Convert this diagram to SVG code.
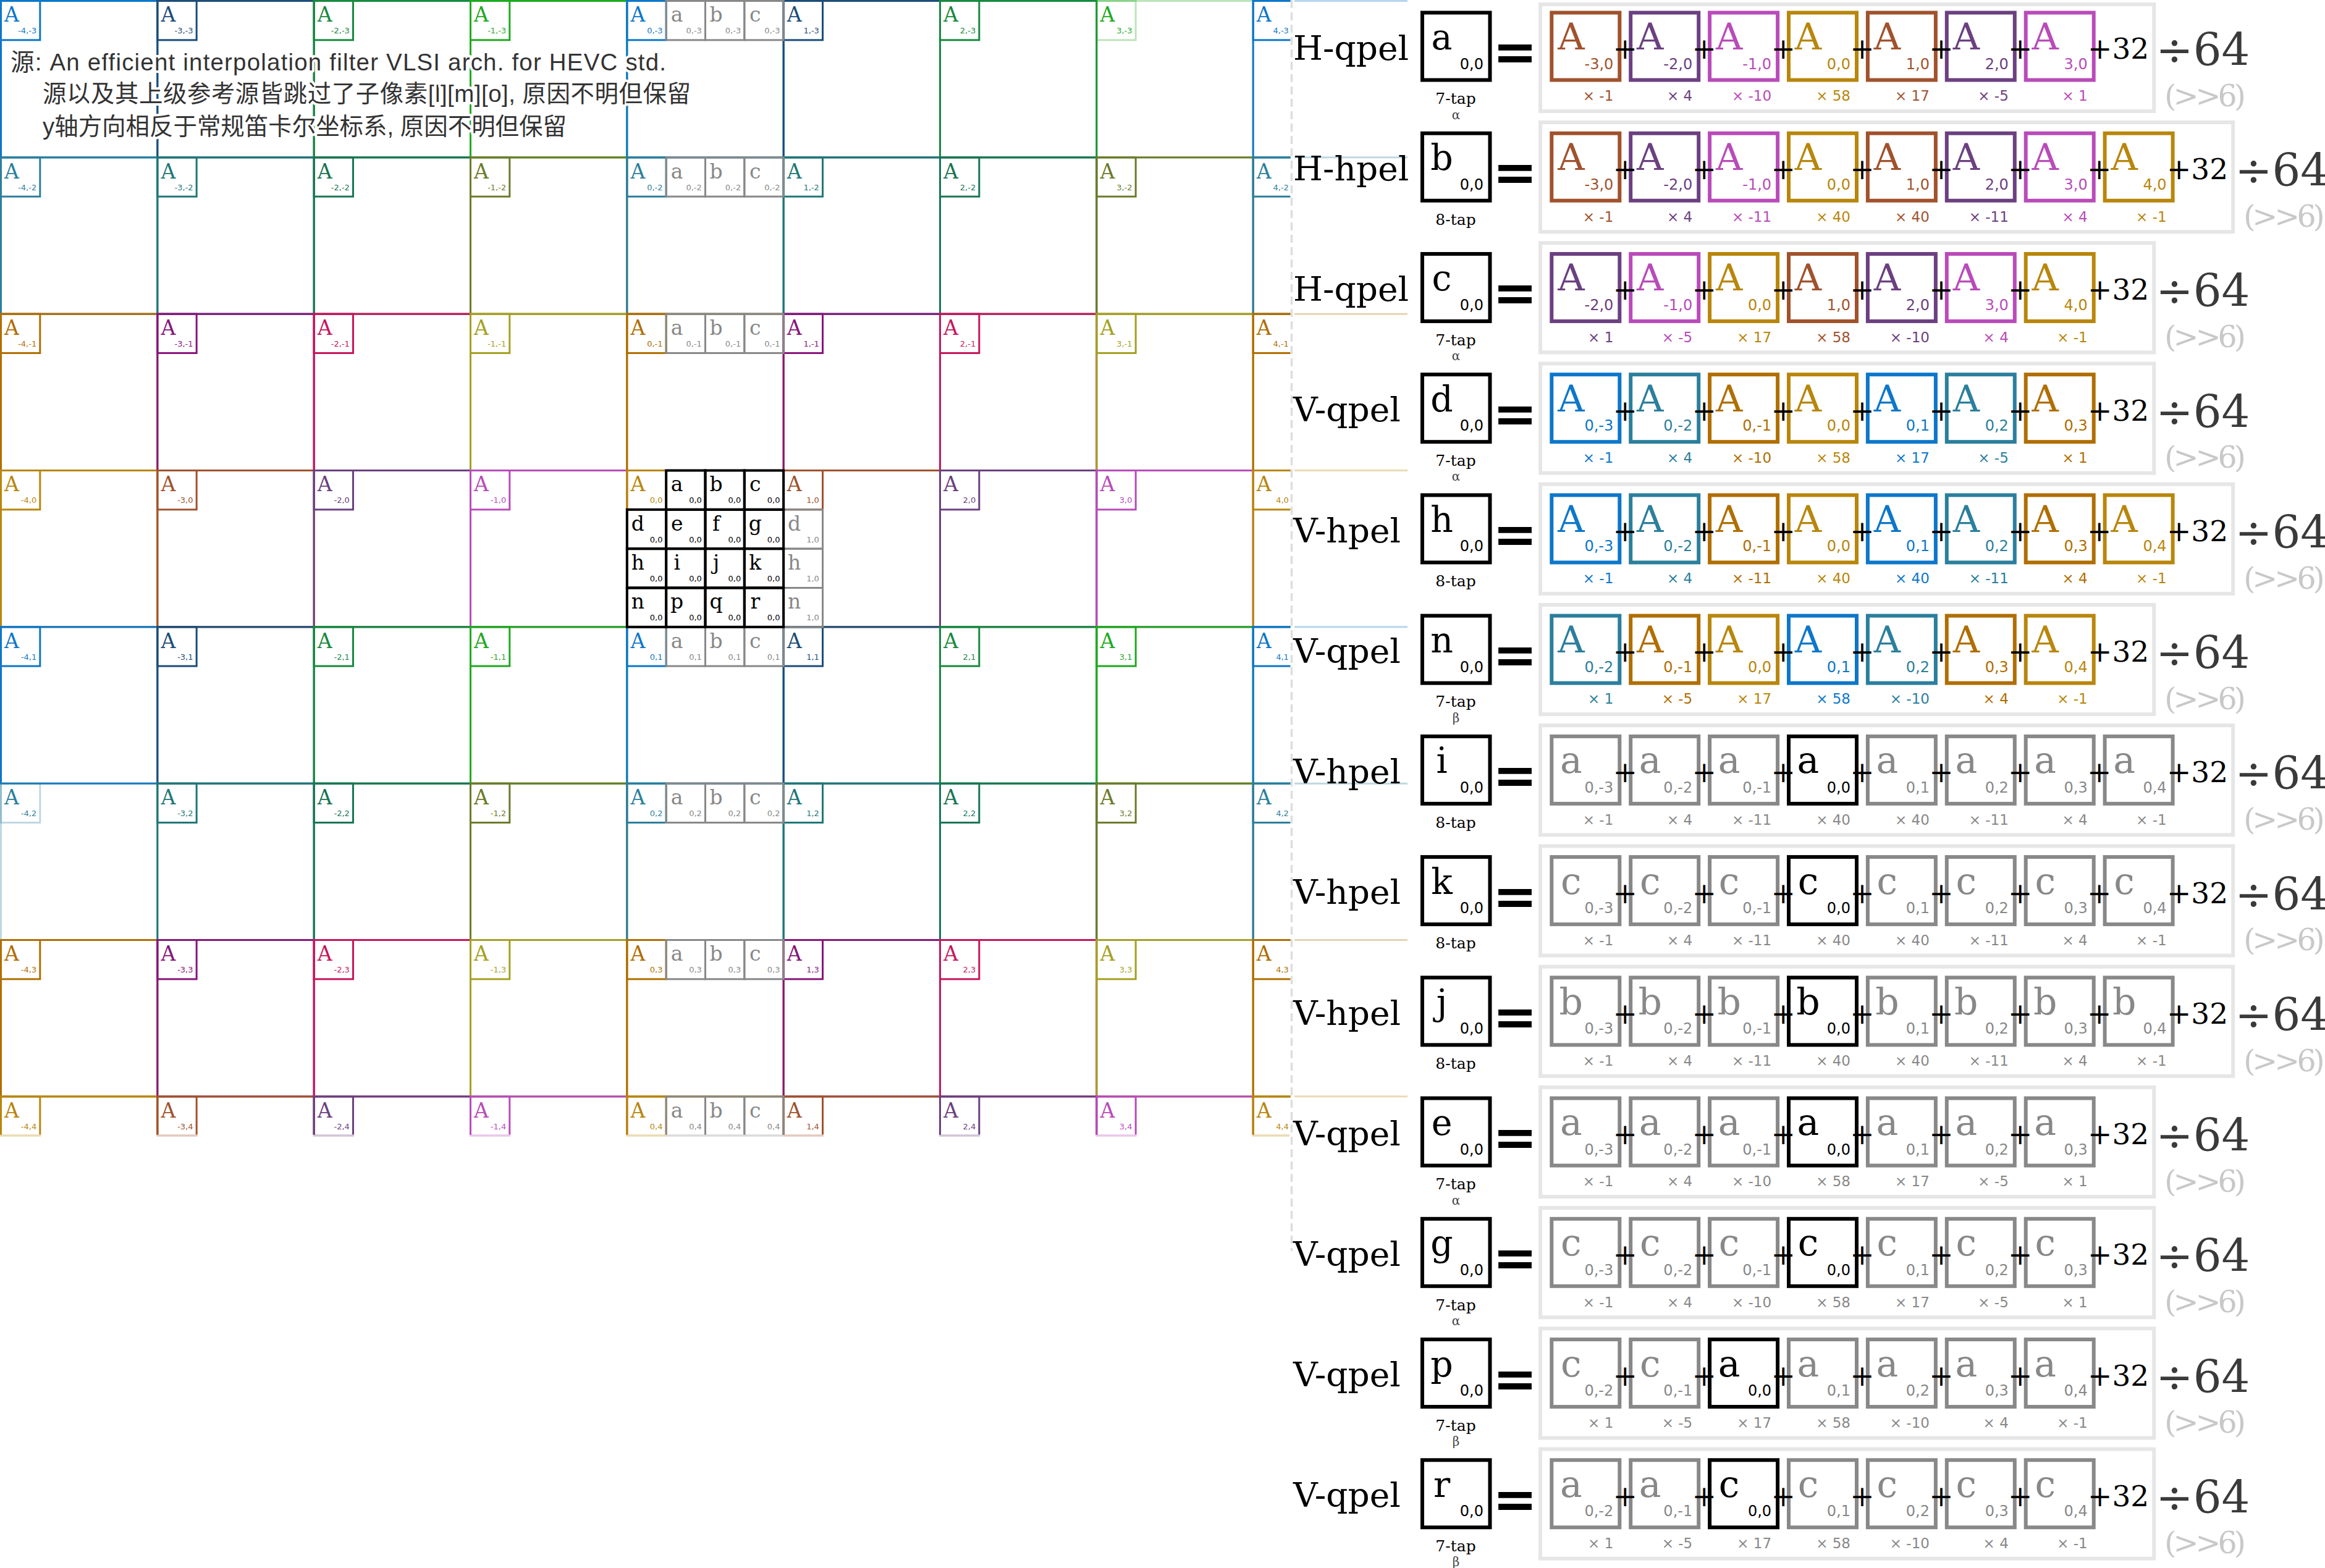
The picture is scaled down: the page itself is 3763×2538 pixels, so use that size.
<svg xmlns="http://www.w3.org/2000/svg" width="3763" height="2538" viewBox="0 0 3763 2538">
<defs>
<style>
text{font-family:"DejaVu Serif",serif}
.cell rect,.sb rect{fill:none;stroke:currentColor;stroke-width:3}
.sk rect{stroke-width:4}
.fd rect{stroke-opacity:.3}
.gl{font-size:33px;text-anchor:middle;fill:currentColor}
.gs{font-family:"DejaVu Sans",sans-serif;font-size:13px;text-anchor:end;fill:currentColor}
.ttl{font-family:"Liberation Sans","Noto Sans CJK SC",sans-serif;font-size:38.5px;fill:#333;stroke:#fff;stroke-width:8px;stroke-linejoin:round;paint-order:stroke}
.lbl{font-size:55px;fill:#000}
.res{fill:#fff;stroke:#000;stroke-width:6}
.rl{font-size:57px;text-anchor:middle}
.rs,.bs{font-family:"DejaVu Sans",sans-serif;font-size:24px;text-anchor:end}
.bs,.bl,.bm{fill:currentColor}
.bl{font-size:60px;text-anchor:middle}
.bm{font-family:"DejaVu Sans",sans-serif;font-size:23px;text-anchor:end}
.gm{fill:#888}
.bx{fill:#fff;stroke:currentColor;stroke-width:6}
.ct{fill:#fff;stroke:#e6e6e6;stroke-width:6}
.eq{font-family:"DejaVu Sans",sans-serif;font-weight:bold;font-size:86px;text-anchor:middle}
.tap{font-size:25px;text-anchor:middle}
.gk{font-size:20px;text-anchor:middle;fill:#444}
.pl{font-size:47px;text-anchor:middle}
.p32{font-size:47px}
.d64{font-size:72px;fill:#3a3a3a}
.sh{font-size:49px;fill:#c8c8c8;letter-spacing:-5px}
.fl{stroke-width:3;stroke-opacity:.3;stroke:currentColor}
.b0{color:#0d77c9}.b1{color:#1c4d78}.b2{color:#168a3e}.b3{color:#1eaa1e}
.t0{color:#2b7f9c}.t1{color:#1f7777}.t2{color:#187553}.t3{color:#6c7b2a}
.o0{color:#b06e00}.o1{color:#87157b}.o2{color:#c8155c}.o3{color:#a6a022}
.g0{color:#b8860b}.g1{color:#a0522d}.g2{color:#6b4080}.g3{color:#b94bb9}
.gy{color:#888}.bk{color:#000}
</style>
<clipPath id="gclip"><rect x="0" y="0" width="2088.5" height="1836.5"/></clipPath>
</defs>
<rect width="3763" height="2538" fill="#fff"/>

<g id="grid" clip-path="url(#gclip)">
<g id="A_m4_m3" class="cell b0" transform="translate(1.5,1.5)"><rect width="253.33" height="253.33"/><rect width="63.33" height="63.33"/><text class="gl" x="17.5" y="33.7">A</text><text class="gs" x="57.7" y="52.7">-4,-3</text></g>
<g id="A_m3_m3" class="cell b1" transform="translate(254.83,1.5)"><rect width="253.33" height="253.33"/><rect width="63.33" height="63.33"/><text class="gl" x="17.5" y="33.7">A</text><text class="gs" x="57.7" y="52.7">-3,-3</text></g>
<g id="A_m2_m3" class="cell b2" transform="translate(508.17,1.5)"><rect width="253.33" height="253.33"/><rect width="63.33" height="63.33"/><text class="gl" x="17.5" y="33.7">A</text><text class="gs" x="57.7" y="52.7">-2,-3</text></g>
<g id="A_m1_m3" class="cell b3" transform="translate(761.5,1.5)"><rect width="253.33" height="253.33"/><rect width="63.33" height="63.33"/><text class="gl" x="17.5" y="33.7">A</text><text class="gs" x="57.7" y="52.7">-1,-3</text></g>
<g id="A_0_m3" class="cell b0" transform="translate(1014.83,1.5)"><rect width="253.33" height="253.33"/><rect width="63.33" height="63.33"/><text class="gl" x="17.5" y="33.7">A</text><text class="gs" x="57.7" y="52.7">0,-3</text></g>
<g id="A_1_m3" class="cell b1" transform="translate(1268.17,1.5)"><rect width="253.33" height="253.33"/><rect width="63.33" height="63.33"/><text class="gl" x="17.5" y="33.7">A</text><text class="gs" x="57.7" y="52.7">1,-3</text></g>
<g id="A_2_m3" class="cell b2" transform="translate(1521.5,1.5)"><rect width="253.33" height="253.33"/><rect width="63.33" height="63.33"/><text class="gl" x="17.5" y="33.7">A</text><text class="gs" x="57.7" y="52.7">2,-3</text></g>
<g id="A_3_m3" class="cell b3 fd" transform="translate(1774.83,1.5)"><rect width="253.33" height="253.33"/><rect width="63.33" height="63.33"/><text class="gl" x="17.5" y="33.7">A</text><text class="gs" x="57.7" y="52.7">3,-3</text></g>
<g id="A_4_m3" class="cell b0" transform="translate(2028.17,1.5)"><rect width="253.33" height="253.33"/><rect width="63.33" height="63.33"/><text class="gl" x="17.5" y="33.7">A</text><text class="gs" x="57.7" y="52.7">4,-3</text></g>

<g id="A_m4_m2" class="cell t0" transform="translate(1.5,254.83)"><rect width="253.33" height="253.33"/><rect width="63.33" height="63.33"/><text class="gl" x="17.5" y="33.7">A</text><text class="gs" x="57.7" y="52.7">-4,-2</text></g>
<g id="A_m3_m2" class="cell t1" transform="translate(254.83,254.83)"><rect width="253.33" height="253.33"/><rect width="63.33" height="63.33"/><text class="gl" x="17.5" y="33.7">A</text><text class="gs" x="57.7" y="52.7">-3,-2</text></g>
<g id="A_m2_m2" class="cell t2" transform="translate(508.17,254.83)"><rect width="253.33" height="253.33"/><rect width="63.33" height="63.33"/><text class="gl" x="17.5" y="33.7">A</text><text class="gs" x="57.7" y="52.7">-2,-2</text></g>
<g id="A_m1_m2" class="cell t3" transform="translate(761.5,254.83)"><rect width="253.33" height="253.33"/><rect width="63.33" height="63.33"/><text class="gl" x="17.5" y="33.7">A</text><text class="gs" x="57.7" y="52.7">-1,-2</text></g>
<g id="A_0_m2" class="cell t0" transform="translate(1014.83,254.83)"><rect width="253.33" height="253.33"/><rect width="63.33" height="63.33"/><text class="gl" x="17.5" y="33.7">A</text><text class="gs" x="57.7" y="52.7">0,-2</text></g>
<g id="A_1_m2" class="cell t1" transform="translate(1268.17,254.83)"><rect width="253.33" height="253.33"/><rect width="63.33" height="63.33"/><text class="gl" x="17.5" y="33.7">A</text><text class="gs" x="57.7" y="52.7">1,-2</text></g>
<g id="A_2_m2" class="cell t2" transform="translate(1521.5,254.83)"><rect width="253.33" height="253.33"/><rect width="63.33" height="63.33"/><text class="gl" x="17.5" y="33.7">A</text><text class="gs" x="57.7" y="52.7">2,-2</text></g>
<g id="A_3_m2" class="cell t3" transform="translate(1774.83,254.83)"><rect width="253.33" height="253.33"/><rect width="63.33" height="63.33"/><text class="gl" x="17.5" y="33.7">A</text><text class="gs" x="57.7" y="52.7">3,-2</text></g>
<g id="A_4_m2" class="cell t0" transform="translate(2028.17,254.83)"><rect width="253.33" height="253.33"/><rect width="63.33" height="63.33"/><text class="gl" x="17.5" y="33.7">A</text><text class="gs" x="57.7" y="52.7">4,-2</text></g>

<g id="A_m4_m1" class="cell o0" transform="translate(1.5,508.17)"><rect width="253.33" height="253.33"/><rect width="63.33" height="63.33"/><text class="gl" x="17.5" y="33.7">A</text><text class="gs" x="57.7" y="52.7">-4,-1</text></g>
<g id="A_m3_m1" class="cell o1" transform="translate(254.83,508.17)"><rect width="253.33" height="253.33"/><rect width="63.33" height="63.33"/><text class="gl" x="17.5" y="33.7">A</text><text class="gs" x="57.7" y="52.7">-3,-1</text></g>
<g id="A_m2_m1" class="cell o2" transform="translate(508.17,508.17)"><rect width="253.33" height="253.33"/><rect width="63.33" height="63.33"/><text class="gl" x="17.5" y="33.7">A</text><text class="gs" x="57.7" y="52.7">-2,-1</text></g>
<g id="A_m1_m1" class="cell o3" transform="translate(761.5,508.17)"><rect width="253.33" height="253.33"/><rect width="63.33" height="63.33"/><text class="gl" x="17.5" y="33.7">A</text><text class="gs" x="57.7" y="52.7">-1,-1</text></g>
<g id="A_0_m1" class="cell o0" transform="translate(1014.83,508.17)"><rect width="253.33" height="253.33"/><rect width="63.33" height="63.33"/><text class="gl" x="17.5" y="33.7">A</text><text class="gs" x="57.7" y="52.7">0,-1</text></g>
<g id="A_1_m1" class="cell o1" transform="translate(1268.17,508.17)"><rect width="253.33" height="253.33"/><rect width="63.33" height="63.33"/><text class="gl" x="17.5" y="33.7">A</text><text class="gs" x="57.7" y="52.7">1,-1</text></g>
<g id="A_2_m1" class="cell o2" transform="translate(1521.5,508.17)"><rect width="253.33" height="253.33"/><rect width="63.33" height="63.33"/><text class="gl" x="17.5" y="33.7">A</text><text class="gs" x="57.7" y="52.7">2,-1</text></g>
<g id="A_3_m1" class="cell o3" transform="translate(1774.83,508.17)"><rect width="253.33" height="253.33"/><rect width="63.33" height="63.33"/><text class="gl" x="17.5" y="33.7">A</text><text class="gs" x="57.7" y="52.7">3,-1</text></g>
<g id="A_4_m1" class="cell o0" transform="translate(2028.17,508.17)"><rect width="253.33" height="253.33"/><rect width="63.33" height="63.33"/><text class="gl" x="17.5" y="33.7">A</text><text class="gs" x="57.7" y="52.7">4,-1</text></g>

<g id="A_m4_0" class="cell g0" transform="translate(1.5,761.5)"><rect width="253.33" height="253.33"/><rect width="63.33" height="63.33"/><text class="gl" x="17.5" y="33.7">A</text><text class="gs" x="57.7" y="52.7">-4,0</text></g>
<g id="A_m3_0" class="cell g1" transform="translate(254.83,761.5)"><rect width="253.33" height="253.33"/><rect width="63.33" height="63.33"/><text class="gl" x="17.5" y="33.7">A</text><text class="gs" x="57.7" y="52.7">-3,0</text></g>
<g id="A_m2_0" class="cell g2" transform="translate(508.17,761.5)"><rect width="253.33" height="253.33"/><rect width="63.33" height="63.33"/><text class="gl" x="17.5" y="33.7">A</text><text class="gs" x="57.7" y="52.7">-2,0</text></g>
<g id="A_m1_0" class="cell g3" transform="translate(761.5,761.5)"><rect width="253.33" height="253.33"/><rect width="63.33" height="63.33"/><text class="gl" x="17.5" y="33.7">A</text><text class="gs" x="57.7" y="52.7">-1,0</text></g>
<g id="A_0_0" class="cell g0" transform="translate(1014.83,761.5)"><rect width="253.33" height="253.33"/><rect width="63.33" height="63.33"/><text class="gl" x="17.5" y="33.7">A</text><text class="gs" x="57.7" y="52.7">0,0</text></g>
<g id="A_1_0" class="cell g1" transform="translate(1268.17,761.5)"><rect width="253.33" height="253.33"/><rect width="63.33" height="63.33"/><text class="gl" x="17.5" y="33.7">A</text><text class="gs" x="57.7" y="52.7">1,0</text></g>
<g id="A_2_0" class="cell g2" transform="translate(1521.5,761.5)"><rect width="253.33" height="253.33"/><rect width="63.33" height="63.33"/><text class="gl" x="17.5" y="33.7">A</text><text class="gs" x="57.7" y="52.7">2,0</text></g>
<g id="A_3_0" class="cell g3" transform="translate(1774.83,761.5)"><rect width="253.33" height="253.33"/><rect width="63.33" height="63.33"/><text class="gl" x="17.5" y="33.7">A</text><text class="gs" x="57.7" y="52.7">3,0</text></g>
<g id="A_4_0" class="cell g0" transform="translate(2028.17,761.5)"><rect width="253.33" height="253.33"/><rect width="63.33" height="63.33"/><text class="gl" x="17.5" y="33.7">A</text><text class="gs" x="57.7" y="52.7">4,0</text></g>

<g id="A_m4_1" class="cell b0" transform="translate(1.5,1014.83)"><rect width="253.33" height="253.33"/><rect width="63.33" height="63.33"/><text class="gl" x="17.5" y="33.7">A</text><text class="gs" x="57.7" y="52.7">-4,1</text></g>
<g id="A_m3_1" class="cell b1" transform="translate(254.83,1014.83)"><rect width="253.33" height="253.33"/><rect width="63.33" height="63.33"/><text class="gl" x="17.5" y="33.7">A</text><text class="gs" x="57.7" y="52.7">-3,1</text></g>
<g id="A_m2_1" class="cell b2" transform="translate(508.17,1014.83)"><rect width="253.33" height="253.33"/><rect width="63.33" height="63.33"/><text class="gl" x="17.5" y="33.7">A</text><text class="gs" x="57.7" y="52.7">-2,1</text></g>
<g id="A_m1_1" class="cell b3" transform="translate(761.5,1014.83)"><rect width="253.33" height="253.33"/><rect width="63.33" height="63.33"/><text class="gl" x="17.5" y="33.7">A</text><text class="gs" x="57.7" y="52.7">-1,1</text></g>
<g id="A_0_1" class="cell b0" transform="translate(1014.83,1014.83)"><rect width="253.33" height="253.33"/><rect width="63.33" height="63.33"/><text class="gl" x="17.5" y="33.7">A</text><text class="gs" x="57.7" y="52.7">0,1</text></g>
<g id="A_1_1" class="cell b1" transform="translate(1268.17,1014.83)"><rect width="253.33" height="253.33"/><rect width="63.33" height="63.33"/><text class="gl" x="17.5" y="33.7">A</text><text class="gs" x="57.7" y="52.7">1,1</text></g>
<g id="A_2_1" class="cell b2" transform="translate(1521.5,1014.83)"><rect width="253.33" height="253.33"/><rect width="63.33" height="63.33"/><text class="gl" x="17.5" y="33.7">A</text><text class="gs" x="57.7" y="52.7">2,1</text></g>
<g id="A_3_1" class="cell b3" transform="translate(1774.83,1014.83)"><rect width="253.33" height="253.33"/><rect width="63.33" height="63.33"/><text class="gl" x="17.5" y="33.7">A</text><text class="gs" x="57.7" y="52.7">3,1</text></g>
<g id="A_4_1" class="cell b0" transform="translate(2028.17,1014.83)"><rect width="253.33" height="253.33"/><rect width="63.33" height="63.33"/><text class="gl" x="17.5" y="33.7">A</text><text class="gs" x="57.7" y="52.7">4,1</text></g>

<g id="A_m4_2" class="cell t0 fd" transform="translate(1.5,1268.17)"><rect width="253.33" height="253.33"/><rect width="63.33" height="63.33"/><text class="gl" x="17.5" y="33.7">A</text><text class="gs" x="57.7" y="52.7">-4,2</text></g>
<g id="A_m3_2" class="cell t1" transform="translate(254.83,1268.17)"><rect width="253.33" height="253.33"/><rect width="63.33" height="63.33"/><text class="gl" x="17.5" y="33.7">A</text><text class="gs" x="57.7" y="52.7">-3,2</text></g>
<g id="A_m2_2" class="cell t2" transform="translate(508.17,1268.17)"><rect width="253.33" height="253.33"/><rect width="63.33" height="63.33"/><text class="gl" x="17.5" y="33.7">A</text><text class="gs" x="57.7" y="52.7">-2,2</text></g>
<g id="A_m1_2" class="cell t3" transform="translate(761.5,1268.17)"><rect width="253.33" height="253.33"/><rect width="63.33" height="63.33"/><text class="gl" x="17.5" y="33.7">A</text><text class="gs" x="57.7" y="52.7">-1,2</text></g>
<g id="A_0_2" class="cell t0" transform="translate(1014.83,1268.17)"><rect width="253.33" height="253.33"/><rect width="63.33" height="63.33"/><text class="gl" x="17.5" y="33.7">A</text><text class="gs" x="57.7" y="52.7">0,2</text></g>
<g id="A_1_2" class="cell t1" transform="translate(1268.17,1268.17)"><rect width="253.33" height="253.33"/><rect width="63.33" height="63.33"/><text class="gl" x="17.5" y="33.7">A</text><text class="gs" x="57.7" y="52.7">1,2</text></g>
<g id="A_2_2" class="cell t2" transform="translate(1521.5,1268.17)"><rect width="253.33" height="253.33"/><rect width="63.33" height="63.33"/><text class="gl" x="17.5" y="33.7">A</text><text class="gs" x="57.7" y="52.7">2,2</text></g>
<g id="A_3_2" class="cell t3" transform="translate(1774.83,1268.17)"><rect width="253.33" height="253.33"/><rect width="63.33" height="63.33"/><text class="gl" x="17.5" y="33.7">A</text><text class="gs" x="57.7" y="52.7">3,2</text></g>
<g id="A_4_2" class="cell t0" transform="translate(2028.17,1268.17)"><rect width="253.33" height="253.33"/><rect width="63.33" height="63.33"/><text class="gl" x="17.5" y="33.7">A</text><text class="gs" x="57.7" y="52.7">4,2</text></g>

<g id="A_m4_3" class="cell o0" transform="translate(1.5,1521.5)"><rect width="253.33" height="253.33"/><rect width="63.33" height="63.33"/><text class="gl" x="17.5" y="33.7">A</text><text class="gs" x="57.7" y="52.7">-4,3</text></g>
<g id="A_m3_3" class="cell o1" transform="translate(254.83,1521.5)"><rect width="253.33" height="253.33"/><rect width="63.33" height="63.33"/><text class="gl" x="17.5" y="33.7">A</text><text class="gs" x="57.7" y="52.7">-3,3</text></g>
<g id="A_m2_3" class="cell o2" transform="translate(508.17,1521.5)"><rect width="253.33" height="253.33"/><rect width="63.33" height="63.33"/><text class="gl" x="17.5" y="33.7">A</text><text class="gs" x="57.7" y="52.7">-2,3</text></g>
<g id="A_m1_3" class="cell o3" transform="translate(761.5,1521.5)"><rect width="253.33" height="253.33"/><rect width="63.33" height="63.33"/><text class="gl" x="17.5" y="33.7">A</text><text class="gs" x="57.7" y="52.7">-1,3</text></g>
<g id="A_0_3" class="cell o0" transform="translate(1014.83,1521.5)"><rect width="253.33" height="253.33"/><rect width="63.33" height="63.33"/><text class="gl" x="17.5" y="33.7">A</text><text class="gs" x="57.7" y="52.7">0,3</text></g>
<g id="A_1_3" class="cell o1" transform="translate(1268.17,1521.5)"><rect width="253.33" height="253.33"/><rect width="63.33" height="63.33"/><text class="gl" x="17.5" y="33.7">A</text><text class="gs" x="57.7" y="52.7">1,3</text></g>
<g id="A_2_3" class="cell o2" transform="translate(1521.5,1521.5)"><rect width="253.33" height="253.33"/><rect width="63.33" height="63.33"/><text class="gl" x="17.5" y="33.7">A</text><text class="gs" x="57.7" y="52.7">2,3</text></g>
<g id="A_3_3" class="cell o3" transform="translate(1774.83,1521.5)"><rect width="253.33" height="253.33"/><rect width="63.33" height="63.33"/><text class="gl" x="17.5" y="33.7">A</text><text class="gs" x="57.7" y="52.7">3,3</text></g>
<g id="A_4_3" class="cell o0" transform="translate(2028.17,1521.5)"><rect width="253.33" height="253.33"/><rect width="63.33" height="63.33"/><text class="gl" x="17.5" y="33.7">A</text><text class="gs" x="57.7" y="52.7">4,3</text></g>

<g id="A_m4_4" class="cell g0" transform="translate(1.5,1774.83)"><rect width="253.33" height="253.33"/><rect width="63.33" height="63.33"/><text class="gl" x="17.5" y="33.7">A</text><text class="gs" x="57.7" y="52.7">-4,4</text></g>
<g id="A_m3_4" class="cell g1" transform="translate(254.83,1774.83)"><rect width="253.33" height="253.33"/><rect width="63.33" height="63.33"/><text class="gl" x="17.5" y="33.7">A</text><text class="gs" x="57.7" y="52.7">-3,4</text></g>
<g id="A_m2_4" class="cell g2" transform="translate(508.17,1774.83)"><rect width="253.33" height="253.33"/><rect width="63.33" height="63.33"/><text class="gl" x="17.5" y="33.7">A</text><text class="gs" x="57.7" y="52.7">-2,4</text></g>
<g id="A_m1_4" class="cell g3" transform="translate(761.5,1774.83)"><rect width="253.33" height="253.33"/><rect width="63.33" height="63.33"/><text class="gl" x="17.5" y="33.7">A</text><text class="gs" x="57.7" y="52.7">-1,4</text></g>
<g id="A_0_4" class="cell g0" transform="translate(1014.83,1774.83)"><rect width="253.33" height="253.33"/><rect width="63.33" height="63.33"/><text class="gl" x="17.5" y="33.7">A</text><text class="gs" x="57.7" y="52.7">0,4</text></g>
<g id="A_1_4" class="cell g1" transform="translate(1268.17,1774.83)"><rect width="253.33" height="253.33"/><rect width="63.33" height="63.33"/><text class="gl" x="17.5" y="33.7">A</text><text class="gs" x="57.7" y="52.7">1,4</text></g>
<g id="A_2_4" class="cell g2" transform="translate(1521.5,1774.83)"><rect width="253.33" height="253.33"/><rect width="63.33" height="63.33"/><text class="gl" x="17.5" y="33.7">A</text><text class="gs" x="57.7" y="52.7">2,4</text></g>
<g id="A_3_4" class="cell g3" transform="translate(1774.83,1774.83)"><rect width="253.33" height="253.33"/><rect width="63.33" height="63.33"/><text class="gl" x="17.5" y="33.7">A</text><text class="gs" x="57.7" y="52.7">3,4</text></g>
<g id="A_4_4" class="cell g0" transform="translate(2028.17,1774.83)"><rect width="253.33" height="253.33"/><rect width="63.33" height="63.33"/><text class="gl" x="17.5" y="33.7">A</text><text class="gs" x="57.7" y="52.7">4,4</text></g>

<g id="subpels-gray">
<g class="sb gy" transform="translate(1078.17,1.5)"><rect width="63.33" height="63.33"/><text class="gl" x="17.5" y="33.7">a</text><text class="gs" x="57.7" y="52.7">0,-3</text></g>
<g class="sb gy" transform="translate(1141.5,1.5)"><rect width="63.33" height="63.33"/><text class="gl" x="17.5" y="33.7">b</text><text class="gs" x="57.7" y="52.7">0,-3</text></g>
<g class="sb gy" transform="translate(1204.83,1.5)"><rect width="63.33" height="63.33"/><text class="gl" x="17.5" y="33.7">c</text><text class="gs" x="57.7" y="52.7">0,-3</text></g>
<g class="sb gy" transform="translate(1078.17,254.83)"><rect width="63.33" height="63.33"/><text class="gl" x="17.5" y="33.7">a</text><text class="gs" x="57.7" y="52.7">0,-2</text></g>
<g class="sb gy" transform="translate(1141.5,254.83)"><rect width="63.33" height="63.33"/><text class="gl" x="17.5" y="33.7">b</text><text class="gs" x="57.7" y="52.7">0,-2</text></g>
<g class="sb gy" transform="translate(1204.83,254.83)"><rect width="63.33" height="63.33"/><text class="gl" x="17.5" y="33.7">c</text><text class="gs" x="57.7" y="52.7">0,-2</text></g>
<g class="sb gy" transform="translate(1078.17,508.17)"><rect width="63.33" height="63.33"/><text class="gl" x="17.5" y="33.7">a</text><text class="gs" x="57.7" y="52.7">0,-1</text></g>
<g class="sb gy" transform="translate(1141.5,508.17)"><rect width="63.33" height="63.33"/><text class="gl" x="17.5" y="33.7">b</text><text class="gs" x="57.7" y="52.7">0,-1</text></g>
<g class="sb gy" transform="translate(1204.83,508.17)"><rect width="63.33" height="63.33"/><text class="gl" x="17.5" y="33.7">c</text><text class="gs" x="57.7" y="52.7">0,-1</text></g>
<g class="sb gy" transform="translate(1078.17,1014.83)"><rect width="63.33" height="63.33"/><text class="gl" x="17.5" y="33.7">a</text><text class="gs" x="57.7" y="52.7">0,1</text></g>
<g class="sb gy" transform="translate(1141.5,1014.83)"><rect width="63.33" height="63.33"/><text class="gl" x="17.5" y="33.7">b</text><text class="gs" x="57.7" y="52.7">0,1</text></g>
<g class="sb gy" transform="translate(1204.83,1014.83)"><rect width="63.33" height="63.33"/><text class="gl" x="17.5" y="33.7">c</text><text class="gs" x="57.7" y="52.7">0,1</text></g>
<g class="sb gy" transform="translate(1078.17,1268.17)"><rect width="63.33" height="63.33"/><text class="gl" x="17.5" y="33.7">a</text><text class="gs" x="57.7" y="52.7">0,2</text></g>
<g class="sb gy" transform="translate(1141.5,1268.17)"><rect width="63.33" height="63.33"/><text class="gl" x="17.5" y="33.7">b</text><text class="gs" x="57.7" y="52.7">0,2</text></g>
<g class="sb gy" transform="translate(1204.83,1268.17)"><rect width="63.33" height="63.33"/><text class="gl" x="17.5" y="33.7">c</text><text class="gs" x="57.7" y="52.7">0,2</text></g>
<g class="sb gy" transform="translate(1078.17,1521.5)"><rect width="63.33" height="63.33"/><text class="gl" x="17.5" y="33.7">a</text><text class="gs" x="57.7" y="52.7">0,3</text></g>
<g class="sb gy" transform="translate(1141.5,1521.5)"><rect width="63.33" height="63.33"/><text class="gl" x="17.5" y="33.7">b</text><text class="gs" x="57.7" y="52.7">0,3</text></g>
<g class="sb gy" transform="translate(1204.83,1521.5)"><rect width="63.33" height="63.33"/><text class="gl" x="17.5" y="33.7">c</text><text class="gs" x="57.7" y="52.7">0,3</text></g>
<g class="sb gy" transform="translate(1078.17,1774.83)"><rect width="63.33" height="63.33"/><text class="gl" x="17.5" y="33.7">a</text><text class="gs" x="57.7" y="52.7">0,4</text></g>
<g class="sb gy" transform="translate(1141.5,1774.83)"><rect width="63.33" height="63.33"/><text class="gl" x="17.5" y="33.7">b</text><text class="gs" x="57.7" y="52.7">0,4</text></g>
<g class="sb gy" transform="translate(1204.83,1774.83)"><rect width="63.33" height="63.33"/><text class="gl" x="17.5" y="33.7">c</text><text class="gs" x="57.7" y="52.7">0,4</text></g>
<g class="sb gy" transform="translate(1268.17,824.83)"><rect width="63.33" height="63.33"/><text class="gl" x="17.5" y="33.7">d</text><text class="gs" x="57.7" y="52.7">1,0</text></g>
<g class="sb gy" transform="translate(1268.17,888.17)"><rect width="63.33" height="63.33"/><text class="gl" x="17.5" y="33.7">h</text><text class="gs" x="57.7" y="52.7">1,0</text></g>
<g class="sb gy" transform="translate(1268.17,951.5)"><rect width="63.33" height="63.33"/><text class="gl" x="17.5" y="33.7">n</text><text class="gs" x="57.7" y="52.7">1,0</text></g>
</g>
<g id="subpels-0-0">
<g class="sb sk bk" transform="translate(1078.17,761.5)"><rect width="63.33" height="63.33"/><text class="gl" x="17.5" y="33.7">a</text><text class="gs" x="57.7" y="52.7">0,0</text></g>
<g class="sb sk bk" transform="translate(1141.5,761.5)"><rect width="63.33" height="63.33"/><text class="gl" x="17.5" y="33.7">b</text><text class="gs" x="57.7" y="52.7">0,0</text></g>
<g class="sb sk bk" transform="translate(1204.83,761.5)"><rect width="63.33" height="63.33"/><text class="gl" x="17.5" y="33.7">c</text><text class="gs" x="57.7" y="52.7">0,0</text></g>
<g class="sb sk bk" transform="translate(1014.83,824.83)"><rect width="63.33" height="63.33"/><text class="gl" x="17.5" y="33.7">d</text><text class="gs" x="57.7" y="52.7">0,0</text></g>
<g class="sb sk bk" transform="translate(1078.17,824.83)"><rect width="63.33" height="63.33"/><text class="gl" x="17.5" y="33.7">e</text><text class="gs" x="57.7" y="52.7">0,0</text></g>
<g class="sb sk bk" transform="translate(1141.5,824.83)"><rect width="63.33" height="63.33"/><text class="gl" x="17.5" y="33.7">f</text><text class="gs" x="57.7" y="52.7">0,0</text></g>
<g class="sb sk bk" transform="translate(1204.83,824.83)"><rect width="63.33" height="63.33"/><text class="gl" x="17.5" y="33.7">g</text><text class="gs" x="57.7" y="52.7">0,0</text></g>
<g class="sb sk bk" transform="translate(1014.83,888.17)"><rect width="63.33" height="63.33"/><text class="gl" x="17.5" y="33.7">h</text><text class="gs" x="57.7" y="52.7">0,0</text></g>
<g class="sb sk bk" transform="translate(1078.17,888.17)"><rect width="63.33" height="63.33"/><text class="gl" x="17.5" y="33.7">i</text><text class="gs" x="57.7" y="52.7">0,0</text></g>
<g class="sb sk bk" transform="translate(1141.5,888.17)"><rect width="63.33" height="63.33"/><text class="gl" x="17.5" y="33.7">j</text><text class="gs" x="57.7" y="52.7">0,0</text></g>
<g class="sb sk bk" transform="translate(1204.83,888.17)"><rect width="63.33" height="63.33"/><text class="gl" x="17.5" y="33.7">k</text><text class="gs" x="57.7" y="52.7">0,0</text></g>
<g class="sb sk bk" transform="translate(1014.83,951.5)"><rect width="63.33" height="63.33"/><text class="gl" x="17.5" y="33.7">n</text><text class="gs" x="57.7" y="52.7">0,0</text></g>
<g class="sb sk bk" transform="translate(1078.17,951.5)"><rect width="63.33" height="63.33"/><text class="gl" x="17.5" y="33.7">p</text><text class="gs" x="57.7" y="52.7">0,0</text></g>
<g class="sb sk bk" transform="translate(1141.5,951.5)"><rect width="63.33" height="63.33"/><text class="gl" x="17.5" y="33.7">q</text><text class="gs" x="57.7" y="52.7">0,0</text></g>
<g class="sb sk bk" transform="translate(1204.83,951.5)"><rect width="63.33" height="63.33"/><text class="gl" x="17.5" y="33.7">r</text><text class="gs" x="57.7" y="52.7">0,0</text></g>
</g>
</g>

<g id="grid-fade-bottom">
<line class="fl g0" x1="0" y1="1838.16" x2="66.33" y2="1838.16"/>
<line class="fl g1" x1="253.33" y1="1838.16" x2="319.66" y2="1838.16"/>
<line class="fl g2" x1="506.67" y1="1838.16" x2="573" y2="1838.16"/>
<line class="fl g3" x1="760" y1="1838.16" x2="826.33" y2="1838.16"/>
<line class="fl g0" x1="1013.33" y1="1838.16" x2="1078.17" y2="1838.16"/>
<line class="fl gy" x1="1078.17" y1="1838.16" x2="1268.17" y2="1838.16"/>
<line class="fl g1" x1="1268.17" y1="1838.16" x2="1333" y2="1838.16"/>
<line class="fl g2" x1="1520" y1="1838.16" x2="1586.33" y2="1838.16"/>
<line class="fl g3" x1="1773.33" y1="1838.16" x2="1839.66" y2="1838.16"/>
<line class="fl g0" x1="2026.67" y1="1838.16" x2="2087" y2="1838.16"/>
</g>

<g id="note">
<text class="ttl" x="17" y="114" textLength="1061" lengthAdjust="spacing">源: An efficient interpolation filter VLSI arch. for HEVC std.</text>
<text class="ttl" x="69" y="165" textLength="1049" lengthAdjust="spacing">源以及其上级参考源皆跳过了子像素[l][m][o], 原因不明但保留</text>
<text class="ttl" x="69" y="217.5" textLength="848" lengthAdjust="spacing">y轴方向相反于常规笛卡尔坐标系, 原因不明但保留</text>
</g>

<g id="panel-edge">
<line x1="2090.5" y1="0" x2="2090.5" y2="2025" stroke="#dddddd" stroke-width="3.5" stroke-dasharray="13 7"/>
<line class="fl b0" x1="2095" y1="1.5" x2="2278" y2="1.5"/>
<line class="fl t0" x1="2095" y1="254.83" x2="2278" y2="254.83"/>
<line class="fl o0" x1="2095" y1="508.17" x2="2278" y2="508.17"/>
<line class="fl g0" x1="2095" y1="761.5" x2="2278" y2="761.5"/>
<line class="fl b0" x1="2095" y1="1014.83" x2="2278" y2="1014.83"/>
<line class="fl t0" x1="2095" y1="1268.17" x2="2278" y2="1268.17"/>
<line class="fl o0" x1="2095" y1="1521.5" x2="2278" y2="1521.5"/>
<line class="fl g0" x1="2095" y1="1774.83" x2="2278" y2="1774.83"/>
</g>

<g id="connectors"></g>

<g id="eq-a" transform="translate(0,0)">
<text class="lbl" x="2093" y="96.7">H-qpel</text>
<rect class="res" x="2302" y="20.5" width="109.5" height="109"/><text class="rl" x="2333.5" y="80">a</text><text class="rs" x="2401" y="111.5">0,0</text>
<text class="eq" x="2452" y="113">=</text>
<text class="tap" x="2356" y="168.3">7-tap</text><text class="gk" x="2356.5" y="192.7">α</text>
<rect class="ct" x="2493" y="7" width="993.3" height="173"/>
<g class="g1" transform="translate(2508.3,0)"><rect class="bx" x="3" y="20.5" width="110" height="109"/><text class="bl" x="34.5" y="80">A</text><text class="bs" x="103" y="111.5">-3,0</text><text class="bm" x="103" y="163.3">× -1</text></g>
<g class="g2" transform="translate(2636.2,0)"><rect class="bx" x="3" y="20.5" width="110" height="109"/><text class="bl" x="34.5" y="80">A</text><text class="bs" x="103" y="111.5">-2,0</text><text class="bm" x="103" y="163.3">× 4</text></g>
<g class="g3" transform="translate(2764.1,0)"><rect class="bx" x="3" y="20.5" width="110" height="109"/><text class="bl" x="34.5" y="80">A</text><text class="bs" x="103" y="111.5">-1,0</text><text class="bm" x="103" y="163.3">× -10</text></g>
<g class="g0" transform="translate(2892,0)"><rect class="bx" x="3" y="20.5" width="110" height="109"/><text class="bl" x="34.5" y="80">A</text><text class="bs" x="103" y="111.5">0,0</text><text class="bm" x="103" y="163.3">× 58</text></g>
<g class="g1" transform="translate(3019.9,0)"><rect class="bx" x="3" y="20.5" width="110" height="109"/><text class="bl" x="34.5" y="80">A</text><text class="bs" x="103" y="111.5">1,0</text><text class="bm" x="103" y="163.3">× 17</text></g>
<g class="g2" transform="translate(3147.8,0)"><rect class="bx" x="3" y="20.5" width="110" height="109"/><text class="bl" x="34.5" y="80">A</text><text class="bs" x="103" y="111.5">2,0</text><text class="bm" x="103" y="163.3">× -5</text></g>
<g class="g3" transform="translate(3275.7,0)"><rect class="bx" x="3" y="20.5" width="110" height="109"/><text class="bl" x="34.5" y="80">A</text><text class="bs" x="103" y="111.5">3,0</text><text class="bm" x="103" y="163.3">× 1</text></g>
<text class="pl" x="2630.3" y="95">+</text><text class="pl" x="2758.2" y="95">+</text><text class="pl" x="2886.1" y="95">+</text><text class="pl" x="3014" y="95">+</text><text class="pl" x="3141.9" y="95">+</text><text class="pl" x="3269.8" y="95">+</text>
<text class="p32" x="3379" y="95">+32</text><text class="d64" x="3489.3" y="106">÷64</text><text class="sh" x="3503.3" y="171.7">(&gt;&gt;6)</text>
</g>

<g id="eq-b" transform="translate(0,195.23)">
<text class="lbl" x="2093" y="96.7">H-hpel</text>
<rect class="res" x="2302" y="20.5" width="109.5" height="109"/><text class="rl" x="2333.5" y="80">b</text><text class="rs" x="2401" y="111.5">0,0</text>
<text class="eq" x="2452" y="113">=</text>
<text class="tap" x="2356" y="168.3">8-tap</text>
<rect class="ct" x="2493" y="2.8" width="1121.2" height="177.2"/>
<g class="g1" transform="translate(2508.3,0)"><rect class="bx" x="3" y="20.5" width="110" height="109"/><text class="bl" x="34.5" y="80">A</text><text class="bs" x="103" y="111.5">-3,0</text><text class="bm" x="103" y="163.3">× -1</text></g>
<g class="g2" transform="translate(2636.2,0)"><rect class="bx" x="3" y="20.5" width="110" height="109"/><text class="bl" x="34.5" y="80">A</text><text class="bs" x="103" y="111.5">-2,0</text><text class="bm" x="103" y="163.3">× 4</text></g>
<g class="g3" transform="translate(2764.1,0)"><rect class="bx" x="3" y="20.5" width="110" height="109"/><text class="bl" x="34.5" y="80">A</text><text class="bs" x="103" y="111.5">-1,0</text><text class="bm" x="103" y="163.3">× -11</text></g>
<g class="g0" transform="translate(2892,0)"><rect class="bx" x="3" y="20.5" width="110" height="109"/><text class="bl" x="34.5" y="80">A</text><text class="bs" x="103" y="111.5">0,0</text><text class="bm" x="103" y="163.3">× 40</text></g>
<g class="g1" transform="translate(3019.9,0)"><rect class="bx" x="3" y="20.5" width="110" height="109"/><text class="bl" x="34.5" y="80">A</text><text class="bs" x="103" y="111.5">1,0</text><text class="bm" x="103" y="163.3">× 40</text></g>
<g class="g2" transform="translate(3147.8,0)"><rect class="bx" x="3" y="20.5" width="110" height="109"/><text class="bl" x="34.5" y="80">A</text><text class="bs" x="103" y="111.5">2,0</text><text class="bm" x="103" y="163.3">× -11</text></g>
<g class="g3" transform="translate(3275.7,0)"><rect class="bx" x="3" y="20.5" width="110" height="109"/><text class="bl" x="34.5" y="80">A</text><text class="bs" x="103" y="111.5">3,0</text><text class="bm" x="103" y="163.3">× 4</text></g>
<g class="g0" transform="translate(3403.6,0)"><rect class="bx" x="3" y="20.5" width="110" height="109"/><text class="bl" x="34.5" y="80">A</text><text class="bs" x="103" y="111.5">4,0</text><text class="bm" x="103" y="163.3">× -1</text></g>
<text class="pl" x="2630.3" y="95">+</text><text class="pl" x="2758.2" y="95">+</text><text class="pl" x="2886.1" y="95">+</text><text class="pl" x="3014" y="95">+</text><text class="pl" x="3141.9" y="95">+</text><text class="pl" x="3269.8" y="95">+</text><text class="pl" x="3397.7" y="95">+</text>
<text class="p32" x="3506.9" y="95">+32</text><text class="d64" x="3617.2" y="106">÷64</text><text class="sh" x="3631.2" y="171.7">(&gt;&gt;6)</text>
</g>

<g id="eq-c" transform="translate(0,390.46)">
<text class="lbl" x="2093" y="96.7">H-qpel</text>
<rect class="res" x="2302" y="20.5" width="109.5" height="109"/><text class="rl" x="2333.5" y="80">c</text><text class="rs" x="2401" y="111.5">0,0</text>
<text class="eq" x="2452" y="113">=</text>
<text class="tap" x="2356" y="168.3">7-tap</text><text class="gk" x="2356.5" y="192.7">α</text>
<rect class="ct" x="2493" y="2.8" width="993.3" height="177.2"/>
<g class="g2" transform="translate(2508.3,0)"><rect class="bx" x="3" y="20.5" width="110" height="109"/><text class="bl" x="34.5" y="80">A</text><text class="bs" x="103" y="111.5">-2,0</text><text class="bm" x="103" y="163.3">× 1</text></g>
<g class="g3" transform="translate(2636.2,0)"><rect class="bx" x="3" y="20.5" width="110" height="109"/><text class="bl" x="34.5" y="80">A</text><text class="bs" x="103" y="111.5">-1,0</text><text class="bm" x="103" y="163.3">× -5</text></g>
<g class="g0" transform="translate(2764.1,0)"><rect class="bx" x="3" y="20.5" width="110" height="109"/><text class="bl" x="34.5" y="80">A</text><text class="bs" x="103" y="111.5">0,0</text><text class="bm" x="103" y="163.3">× 17</text></g>
<g class="g1" transform="translate(2892,0)"><rect class="bx" x="3" y="20.5" width="110" height="109"/><text class="bl" x="34.5" y="80">A</text><text class="bs" x="103" y="111.5">1,0</text><text class="bm" x="103" y="163.3">× 58</text></g>
<g class="g2" transform="translate(3019.9,0)"><rect class="bx" x="3" y="20.5" width="110" height="109"/><text class="bl" x="34.5" y="80">A</text><text class="bs" x="103" y="111.5">2,0</text><text class="bm" x="103" y="163.3">× -10</text></g>
<g class="g3" transform="translate(3147.8,0)"><rect class="bx" x="3" y="20.5" width="110" height="109"/><text class="bl" x="34.5" y="80">A</text><text class="bs" x="103" y="111.5">3,0</text><text class="bm" x="103" y="163.3">× 4</text></g>
<g class="g0" transform="translate(3275.7,0)"><rect class="bx" x="3" y="20.5" width="110" height="109"/><text class="bl" x="34.5" y="80">A</text><text class="bs" x="103" y="111.5">4,0</text><text class="bm" x="103" y="163.3">× -1</text></g>
<text class="pl" x="2630.3" y="95">+</text><text class="pl" x="2758.2" y="95">+</text><text class="pl" x="2886.1" y="95">+</text><text class="pl" x="3014" y="95">+</text><text class="pl" x="3141.9" y="95">+</text><text class="pl" x="3269.8" y="95">+</text>
<text class="p32" x="3379" y="95">+32</text><text class="d64" x="3489.3" y="106">÷64</text><text class="sh" x="3503.3" y="171.7">(&gt;&gt;6)</text>
</g>

<g id="eq-d" transform="translate(0,585.69)">
<text class="lbl" x="2093" y="96.7">V-qpel</text>
<rect class="res" x="2302" y="20.5" width="109.5" height="109"/><text class="rl" x="2333.5" y="80">d</text><text class="rs" x="2401" y="111.5">0,0</text>
<text class="eq" x="2452" y="113">=</text>
<text class="tap" x="2356" y="168.3">7-tap</text><text class="gk" x="2356.5" y="192.7">α</text>
<rect class="ct" x="2493" y="2.8" width="993.3" height="177.2"/>
<g class="b0" transform="translate(2508.3,0)"><rect class="bx" x="3" y="20.5" width="110" height="109"/><text class="bl" x="34.5" y="80">A</text><text class="bs" x="103" y="111.5">0,-3</text><text class="bm" x="103" y="163.3">× -1</text></g>
<g class="t0" transform="translate(2636.2,0)"><rect class="bx" x="3" y="20.5" width="110" height="109"/><text class="bl" x="34.5" y="80">A</text><text class="bs" x="103" y="111.5">0,-2</text><text class="bm" x="103" y="163.3">× 4</text></g>
<g class="o0" transform="translate(2764.1,0)"><rect class="bx" x="3" y="20.5" width="110" height="109"/><text class="bl" x="34.5" y="80">A</text><text class="bs" x="103" y="111.5">0,-1</text><text class="bm" x="103" y="163.3">× -10</text></g>
<g class="g0" transform="translate(2892,0)"><rect class="bx" x="3" y="20.5" width="110" height="109"/><text class="bl" x="34.5" y="80">A</text><text class="bs" x="103" y="111.5">0,0</text><text class="bm" x="103" y="163.3">× 58</text></g>
<g class="b0" transform="translate(3019.9,0)"><rect class="bx" x="3" y="20.5" width="110" height="109"/><text class="bl" x="34.5" y="80">A</text><text class="bs" x="103" y="111.5">0,1</text><text class="bm" x="103" y="163.3">× 17</text></g>
<g class="t0" transform="translate(3147.8,0)"><rect class="bx" x="3" y="20.5" width="110" height="109"/><text class="bl" x="34.5" y="80">A</text><text class="bs" x="103" y="111.5">0,2</text><text class="bm" x="103" y="163.3">× -5</text></g>
<g class="o0" transform="translate(3275.7,0)"><rect class="bx" x="3" y="20.5" width="110" height="109"/><text class="bl" x="34.5" y="80">A</text><text class="bs" x="103" y="111.5">0,3</text><text class="bm" x="103" y="163.3">× 1</text></g>
<text class="pl" x="2630.3" y="95">+</text><text class="pl" x="2758.2" y="95">+</text><text class="pl" x="2886.1" y="95">+</text><text class="pl" x="3014" y="95">+</text><text class="pl" x="3141.9" y="95">+</text><text class="pl" x="3269.8" y="95">+</text>
<text class="p32" x="3379" y="95">+32</text><text class="d64" x="3489.3" y="106">÷64</text><text class="sh" x="3503.3" y="171.7">(&gt;&gt;6)</text>
</g>

<g id="eq-h" transform="translate(0,780.92)">
<text class="lbl" x="2093" y="96.7">V-hpel</text>
<rect class="res" x="2302" y="20.5" width="109.5" height="109"/><text class="rl" x="2333.5" y="80">h</text><text class="rs" x="2401" y="111.5">0,0</text>
<text class="eq" x="2452" y="113">=</text>
<text class="tap" x="2356" y="168.3">8-tap</text>
<rect class="ct" x="2493" y="2.8" width="1121.2" height="177.2"/>
<g class="b0" transform="translate(2508.3,0)"><rect class="bx" x="3" y="20.5" width="110" height="109"/><text class="bl" x="34.5" y="80">A</text><text class="bs" x="103" y="111.5">0,-3</text><text class="bm" x="103" y="163.3">× -1</text></g>
<g class="t0" transform="translate(2636.2,0)"><rect class="bx" x="3" y="20.5" width="110" height="109"/><text class="bl" x="34.5" y="80">A</text><text class="bs" x="103" y="111.5">0,-2</text><text class="bm" x="103" y="163.3">× 4</text></g>
<g class="o0" transform="translate(2764.1,0)"><rect class="bx" x="3" y="20.5" width="110" height="109"/><text class="bl" x="34.5" y="80">A</text><text class="bs" x="103" y="111.5">0,-1</text><text class="bm" x="103" y="163.3">× -11</text></g>
<g class="g0" transform="translate(2892,0)"><rect class="bx" x="3" y="20.5" width="110" height="109"/><text class="bl" x="34.5" y="80">A</text><text class="bs" x="103" y="111.5">0,0</text><text class="bm" x="103" y="163.3">× 40</text></g>
<g class="b0" transform="translate(3019.9,0)"><rect class="bx" x="3" y="20.5" width="110" height="109"/><text class="bl" x="34.5" y="80">A</text><text class="bs" x="103" y="111.5">0,1</text><text class="bm" x="103" y="163.3">× 40</text></g>
<g class="t0" transform="translate(3147.8,0)"><rect class="bx" x="3" y="20.5" width="110" height="109"/><text class="bl" x="34.5" y="80">A</text><text class="bs" x="103" y="111.5">0,2</text><text class="bm" x="103" y="163.3">× -11</text></g>
<g class="o0" transform="translate(3275.7,0)"><rect class="bx" x="3" y="20.5" width="110" height="109"/><text class="bl" x="34.5" y="80">A</text><text class="bs" x="103" y="111.5">0,3</text><text class="bm" x="103" y="163.3">× 4</text></g>
<g class="g0" transform="translate(3403.6,0)"><rect class="bx" x="3" y="20.5" width="110" height="109"/><text class="bl" x="34.5" y="80">A</text><text class="bs" x="103" y="111.5">0,4</text><text class="bm" x="103" y="163.3">× -1</text></g>
<text class="pl" x="2630.3" y="95">+</text><text class="pl" x="2758.2" y="95">+</text><text class="pl" x="2886.1" y="95">+</text><text class="pl" x="3014" y="95">+</text><text class="pl" x="3141.9" y="95">+</text><text class="pl" x="3269.8" y="95">+</text><text class="pl" x="3397.7" y="95">+</text>
<text class="p32" x="3506.9" y="95">+32</text><text class="d64" x="3617.2" y="106">÷64</text><text class="sh" x="3631.2" y="171.7">(&gt;&gt;6)</text>
</g>

<g id="eq-n" transform="translate(0,976.15)">
<text class="lbl" x="2093" y="96.7">V-qpel</text>
<rect class="res" x="2302" y="20.5" width="109.5" height="109"/><text class="rl" x="2333.5" y="80">n</text><text class="rs" x="2401" y="111.5">0,0</text>
<text class="eq" x="2452" y="113">=</text>
<text class="tap" x="2356" y="168.3">7-tap</text><text class="gk" x="2356.5" y="192.7">β</text>
<rect class="ct" x="2493" y="2.8" width="993.3" height="177.2"/>
<g class="t0" transform="translate(2508.3,0)"><rect class="bx" x="3" y="20.5" width="110" height="109"/><text class="bl" x="34.5" y="80">A</text><text class="bs" x="103" y="111.5">0,-2</text><text class="bm" x="103" y="163.3">× 1</text></g>
<g class="o0" transform="translate(2636.2,0)"><rect class="bx" x="3" y="20.5" width="110" height="109"/><text class="bl" x="34.5" y="80">A</text><text class="bs" x="103" y="111.5">0,-1</text><text class="bm" x="103" y="163.3">× -5</text></g>
<g class="g0" transform="translate(2764.1,0)"><rect class="bx" x="3" y="20.5" width="110" height="109"/><text class="bl" x="34.5" y="80">A</text><text class="bs" x="103" y="111.5">0,0</text><text class="bm" x="103" y="163.3">× 17</text></g>
<g class="b0" transform="translate(2892,0)"><rect class="bx" x="3" y="20.5" width="110" height="109"/><text class="bl" x="34.5" y="80">A</text><text class="bs" x="103" y="111.5">0,1</text><text class="bm" x="103" y="163.3">× 58</text></g>
<g class="t0" transform="translate(3019.9,0)"><rect class="bx" x="3" y="20.5" width="110" height="109"/><text class="bl" x="34.5" y="80">A</text><text class="bs" x="103" y="111.5">0,2</text><text class="bm" x="103" y="163.3">× -10</text></g>
<g class="o0" transform="translate(3147.8,0)"><rect class="bx" x="3" y="20.5" width="110" height="109"/><text class="bl" x="34.5" y="80">A</text><text class="bs" x="103" y="111.5">0,3</text><text class="bm" x="103" y="163.3">× 4</text></g>
<g class="g0" transform="translate(3275.7,0)"><rect class="bx" x="3" y="20.5" width="110" height="109"/><text class="bl" x="34.5" y="80">A</text><text class="bs" x="103" y="111.5">0,4</text><text class="bm" x="103" y="163.3">× -1</text></g>
<text class="pl" x="2630.3" y="95">+</text><text class="pl" x="2758.2" y="95">+</text><text class="pl" x="2886.1" y="95">+</text><text class="pl" x="3014" y="95">+</text><text class="pl" x="3141.9" y="95">+</text><text class="pl" x="3269.8" y="95">+</text>
<text class="p32" x="3379" y="95">+32</text><text class="d64" x="3489.3" y="106">÷64</text><text class="sh" x="3503.3" y="171.7">(&gt;&gt;6)</text>
</g>

<g id="eq-i" transform="translate(0,1171.38)">
<text class="lbl" x="2093" y="96.7">V-hpel</text>
<rect class="res" x="2302" y="20.5" width="109.5" height="109"/><text class="rl" x="2333.5" y="80">i</text><text class="rs" x="2401" y="111.5">0,0</text>
<text class="eq" x="2452" y="113">=</text>
<text class="tap" x="2356" y="168.3">8-tap</text>
<rect class="ct" x="2493" y="2.8" width="1121.2" height="177.2"/>
<g class="gy" transform="translate(2508.3,0)"><rect class="bx" x="3" y="20.5" width="110" height="109"/><text class="bl" x="34.5" y="80">a</text><text class="bs" x="103" y="111.5">0,-3</text><text class="bm" x="103" y="163.3">× -1</text></g>
<g class="gy" transform="translate(2636.2,0)"><rect class="bx" x="3" y="20.5" width="110" height="109"/><text class="bl" x="34.5" y="80">a</text><text class="bs" x="103" y="111.5">0,-2</text><text class="bm" x="103" y="163.3">× 4</text></g>
<g class="gy" transform="translate(2764.1,0)"><rect class="bx" x="3" y="20.5" width="110" height="109"/><text class="bl" x="34.5" y="80">a</text><text class="bs" x="103" y="111.5">0,-1</text><text class="bm" x="103" y="163.3">× -11</text></g>
<g class="bk" transform="translate(2892,0)"><rect class="bx" x="3" y="20.5" width="110" height="109"/><text class="bl" x="34.5" y="80">a</text><text class="bs" x="103" y="111.5">0,0</text><text class="bm gm" x="103" y="163.3">× 40</text></g>
<g class="gy" transform="translate(3019.9,0)"><rect class="bx" x="3" y="20.5" width="110" height="109"/><text class="bl" x="34.5" y="80">a</text><text class="bs" x="103" y="111.5">0,1</text><text class="bm" x="103" y="163.3">× 40</text></g>
<g class="gy" transform="translate(3147.8,0)"><rect class="bx" x="3" y="20.5" width="110" height="109"/><text class="bl" x="34.5" y="80">a</text><text class="bs" x="103" y="111.5">0,2</text><text class="bm" x="103" y="163.3">× -11</text></g>
<g class="gy" transform="translate(3275.7,0)"><rect class="bx" x="3" y="20.5" width="110" height="109"/><text class="bl" x="34.5" y="80">a</text><text class="bs" x="103" y="111.5">0,3</text><text class="bm" x="103" y="163.3">× 4</text></g>
<g class="gy" transform="translate(3403.6,0)"><rect class="bx" x="3" y="20.5" width="110" height="109"/><text class="bl" x="34.5" y="80">a</text><text class="bs" x="103" y="111.5">0,4</text><text class="bm" x="103" y="163.3">× -1</text></g>
<text class="pl" x="2630.3" y="95">+</text><text class="pl" x="2758.2" y="95">+</text><text class="pl" x="2886.1" y="95">+</text><text class="pl" x="3014" y="95">+</text><text class="pl" x="3141.9" y="95">+</text><text class="pl" x="3269.8" y="95">+</text><text class="pl" x="3397.7" y="95">+</text>
<text class="p32" x="3506.9" y="95">+32</text><text class="d64" x="3617.2" y="106">÷64</text><text class="sh" x="3631.2" y="171.7">(&gt;&gt;6)</text>
</g>

<g id="eq-k" transform="translate(0,1366.61)">
<text class="lbl" x="2093" y="96.7">V-hpel</text>
<rect class="res" x="2302" y="20.5" width="109.5" height="109"/><text class="rl" x="2333.5" y="80">k</text><text class="rs" x="2401" y="111.5">0,0</text>
<text class="eq" x="2452" y="113">=</text>
<text class="tap" x="2356" y="168.3">8-tap</text>
<rect class="ct" x="2493" y="2.8" width="1121.2" height="177.2"/>
<g class="gy" transform="translate(2508.3,0)"><rect class="bx" x="3" y="20.5" width="110" height="109"/><text class="bl" x="34.5" y="80">c</text><text class="bs" x="103" y="111.5">0,-3</text><text class="bm" x="103" y="163.3">× -1</text></g>
<g class="gy" transform="translate(2636.2,0)"><rect class="bx" x="3" y="20.5" width="110" height="109"/><text class="bl" x="34.5" y="80">c</text><text class="bs" x="103" y="111.5">0,-2</text><text class="bm" x="103" y="163.3">× 4</text></g>
<g class="gy" transform="translate(2764.1,0)"><rect class="bx" x="3" y="20.5" width="110" height="109"/><text class="bl" x="34.5" y="80">c</text><text class="bs" x="103" y="111.5">0,-1</text><text class="bm" x="103" y="163.3">× -11</text></g>
<g class="bk" transform="translate(2892,0)"><rect class="bx" x="3" y="20.5" width="110" height="109"/><text class="bl" x="34.5" y="80">c</text><text class="bs" x="103" y="111.5">0,0</text><text class="bm gm" x="103" y="163.3">× 40</text></g>
<g class="gy" transform="translate(3019.9,0)"><rect class="bx" x="3" y="20.5" width="110" height="109"/><text class="bl" x="34.5" y="80">c</text><text class="bs" x="103" y="111.5">0,1</text><text class="bm" x="103" y="163.3">× 40</text></g>
<g class="gy" transform="translate(3147.8,0)"><rect class="bx" x="3" y="20.5" width="110" height="109"/><text class="bl" x="34.5" y="80">c</text><text class="bs" x="103" y="111.5">0,2</text><text class="bm" x="103" y="163.3">× -11</text></g>
<g class="gy" transform="translate(3275.7,0)"><rect class="bx" x="3" y="20.5" width="110" height="109"/><text class="bl" x="34.5" y="80">c</text><text class="bs" x="103" y="111.5">0,3</text><text class="bm" x="103" y="163.3">× 4</text></g>
<g class="gy" transform="translate(3403.6,0)"><rect class="bx" x="3" y="20.5" width="110" height="109"/><text class="bl" x="34.5" y="80">c</text><text class="bs" x="103" y="111.5">0,4</text><text class="bm" x="103" y="163.3">× -1</text></g>
<text class="pl" x="2630.3" y="95">+</text><text class="pl" x="2758.2" y="95">+</text><text class="pl" x="2886.1" y="95">+</text><text class="pl" x="3014" y="95">+</text><text class="pl" x="3141.9" y="95">+</text><text class="pl" x="3269.8" y="95">+</text><text class="pl" x="3397.7" y="95">+</text>
<text class="p32" x="3506.9" y="95">+32</text><text class="d64" x="3617.2" y="106">÷64</text><text class="sh" x="3631.2" y="171.7">(&gt;&gt;6)</text>
</g>

<g id="eq-j" transform="translate(0,1561.84)">
<text class="lbl" x="2093" y="96.7">V-hpel</text>
<rect class="res" x="2302" y="20.5" width="109.5" height="109"/><text class="rl" x="2333.5" y="80">j</text><text class="rs" x="2401" y="111.5">0,0</text>
<text class="eq" x="2452" y="113">=</text>
<text class="tap" x="2356" y="168.3">8-tap</text>
<rect class="ct" x="2493" y="2.8" width="1121.2" height="177.2"/>
<g class="gy" transform="translate(2508.3,0)"><rect class="bx" x="3" y="20.5" width="110" height="109"/><text class="bl" x="34.5" y="80">b</text><text class="bs" x="103" y="111.5">0,-3</text><text class="bm" x="103" y="163.3">× -1</text></g>
<g class="gy" transform="translate(2636.2,0)"><rect class="bx" x="3" y="20.5" width="110" height="109"/><text class="bl" x="34.5" y="80">b</text><text class="bs" x="103" y="111.5">0,-2</text><text class="bm" x="103" y="163.3">× 4</text></g>
<g class="gy" transform="translate(2764.1,0)"><rect class="bx" x="3" y="20.5" width="110" height="109"/><text class="bl" x="34.5" y="80">b</text><text class="bs" x="103" y="111.5">0,-1</text><text class="bm" x="103" y="163.3">× -11</text></g>
<g class="bk" transform="translate(2892,0)"><rect class="bx" x="3" y="20.5" width="110" height="109"/><text class="bl" x="34.5" y="80">b</text><text class="bs" x="103" y="111.5">0,0</text><text class="bm gm" x="103" y="163.3">× 40</text></g>
<g class="gy" transform="translate(3019.9,0)"><rect class="bx" x="3" y="20.5" width="110" height="109"/><text class="bl" x="34.5" y="80">b</text><text class="bs" x="103" y="111.5">0,1</text><text class="bm" x="103" y="163.3">× 40</text></g>
<g class="gy" transform="translate(3147.8,0)"><rect class="bx" x="3" y="20.5" width="110" height="109"/><text class="bl" x="34.5" y="80">b</text><text class="bs" x="103" y="111.5">0,2</text><text class="bm" x="103" y="163.3">× -11</text></g>
<g class="gy" transform="translate(3275.7,0)"><rect class="bx" x="3" y="20.5" width="110" height="109"/><text class="bl" x="34.5" y="80">b</text><text class="bs" x="103" y="111.5">0,3</text><text class="bm" x="103" y="163.3">× 4</text></g>
<g class="gy" transform="translate(3403.6,0)"><rect class="bx" x="3" y="20.5" width="110" height="109"/><text class="bl" x="34.5" y="80">b</text><text class="bs" x="103" y="111.5">0,4</text><text class="bm" x="103" y="163.3">× -1</text></g>
<text class="pl" x="2630.3" y="95">+</text><text class="pl" x="2758.2" y="95">+</text><text class="pl" x="2886.1" y="95">+</text><text class="pl" x="3014" y="95">+</text><text class="pl" x="3141.9" y="95">+</text><text class="pl" x="3269.8" y="95">+</text><text class="pl" x="3397.7" y="95">+</text>
<text class="p32" x="3506.9" y="95">+32</text><text class="d64" x="3617.2" y="106">÷64</text><text class="sh" x="3631.2" y="171.7">(&gt;&gt;6)</text>
</g>

<g id="eq-e" transform="translate(0,1757.07)">
<text class="lbl" x="2093" y="96.7">V-qpel</text>
<rect class="res" x="2302" y="20.5" width="109.5" height="109"/><text class="rl" x="2333.5" y="80">e</text><text class="rs" x="2401" y="111.5">0,0</text>
<text class="eq" x="2452" y="113">=</text>
<text class="tap" x="2356" y="168.3">7-tap</text><text class="gk" x="2356.5" y="192.7">α</text>
<rect class="ct" x="2493" y="2.8" width="993.3" height="177.2"/>
<g class="gy" transform="translate(2508.3,0)"><rect class="bx" x="3" y="20.5" width="110" height="109"/><text class="bl" x="34.5" y="80">a</text><text class="bs" x="103" y="111.5">0,-3</text><text class="bm" x="103" y="163.3">× -1</text></g>
<g class="gy" transform="translate(2636.2,0)"><rect class="bx" x="3" y="20.5" width="110" height="109"/><text class="bl" x="34.5" y="80">a</text><text class="bs" x="103" y="111.5">0,-2</text><text class="bm" x="103" y="163.3">× 4</text></g>
<g class="gy" transform="translate(2764.1,0)"><rect class="bx" x="3" y="20.5" width="110" height="109"/><text class="bl" x="34.5" y="80">a</text><text class="bs" x="103" y="111.5">0,-1</text><text class="bm" x="103" y="163.3">× -10</text></g>
<g class="bk" transform="translate(2892,0)"><rect class="bx" x="3" y="20.5" width="110" height="109"/><text class="bl" x="34.5" y="80">a</text><text class="bs" x="103" y="111.5">0,0</text><text class="bm gm" x="103" y="163.3">× 58</text></g>
<g class="gy" transform="translate(3019.9,0)"><rect class="bx" x="3" y="20.5" width="110" height="109"/><text class="bl" x="34.5" y="80">a</text><text class="bs" x="103" y="111.5">0,1</text><text class="bm" x="103" y="163.3">× 17</text></g>
<g class="gy" transform="translate(3147.8,0)"><rect class="bx" x="3" y="20.5" width="110" height="109"/><text class="bl" x="34.5" y="80">a</text><text class="bs" x="103" y="111.5">0,2</text><text class="bm" x="103" y="163.3">× -5</text></g>
<g class="gy" transform="translate(3275.7,0)"><rect class="bx" x="3" y="20.5" width="110" height="109"/><text class="bl" x="34.5" y="80">a</text><text class="bs" x="103" y="111.5">0,3</text><text class="bm" x="103" y="163.3">× 1</text></g>
<text class="pl" x="2630.3" y="95">+</text><text class="pl" x="2758.2" y="95">+</text><text class="pl" x="2886.1" y="95">+</text><text class="pl" x="3014" y="95">+</text><text class="pl" x="3141.9" y="95">+</text><text class="pl" x="3269.8" y="95">+</text>
<text class="p32" x="3379" y="95">+32</text><text class="d64" x="3489.3" y="106">÷64</text><text class="sh" x="3503.3" y="171.7">(&gt;&gt;6)</text>
</g>

<g id="eq-g" transform="translate(0,1952.3)">
<text class="lbl" x="2093" y="96.7">V-qpel</text>
<rect class="res" x="2302" y="20.5" width="109.5" height="109"/><text class="rl" x="2333.5" y="80">g</text><text class="rs" x="2401" y="111.5">0,0</text>
<text class="eq" x="2452" y="113">=</text>
<text class="tap" x="2356" y="168.3">7-tap</text><text class="gk" x="2356.5" y="192.7">α</text>
<rect class="ct" x="2493" y="2.8" width="993.3" height="177.2"/>
<g class="gy" transform="translate(2508.3,0)"><rect class="bx" x="3" y="20.5" width="110" height="109"/><text class="bl" x="34.5" y="80">c</text><text class="bs" x="103" y="111.5">0,-3</text><text class="bm" x="103" y="163.3">× -1</text></g>
<g class="gy" transform="translate(2636.2,0)"><rect class="bx" x="3" y="20.5" width="110" height="109"/><text class="bl" x="34.5" y="80">c</text><text class="bs" x="103" y="111.5">0,-2</text><text class="bm" x="103" y="163.3">× 4</text></g>
<g class="gy" transform="translate(2764.1,0)"><rect class="bx" x="3" y="20.5" width="110" height="109"/><text class="bl" x="34.5" y="80">c</text><text class="bs" x="103" y="111.5">0,-1</text><text class="bm" x="103" y="163.3">× -10</text></g>
<g class="bk" transform="translate(2892,0)"><rect class="bx" x="3" y="20.5" width="110" height="109"/><text class="bl" x="34.5" y="80">c</text><text class="bs" x="103" y="111.5">0,0</text><text class="bm gm" x="103" y="163.3">× 58</text></g>
<g class="gy" transform="translate(3019.9,0)"><rect class="bx" x="3" y="20.5" width="110" height="109"/><text class="bl" x="34.5" y="80">c</text><text class="bs" x="103" y="111.5">0,1</text><text class="bm" x="103" y="163.3">× 17</text></g>
<g class="gy" transform="translate(3147.8,0)"><rect class="bx" x="3" y="20.5" width="110" height="109"/><text class="bl" x="34.5" y="80">c</text><text class="bs" x="103" y="111.5">0,2</text><text class="bm" x="103" y="163.3">× -5</text></g>
<g class="gy" transform="translate(3275.7,0)"><rect class="bx" x="3" y="20.5" width="110" height="109"/><text class="bl" x="34.5" y="80">c</text><text class="bs" x="103" y="111.5">0,3</text><text class="bm" x="103" y="163.3">× 1</text></g>
<text class="pl" x="2630.3" y="95">+</text><text class="pl" x="2758.2" y="95">+</text><text class="pl" x="2886.1" y="95">+</text><text class="pl" x="3014" y="95">+</text><text class="pl" x="3141.9" y="95">+</text><text class="pl" x="3269.8" y="95">+</text>
<text class="p32" x="3379" y="95">+32</text><text class="d64" x="3489.3" y="106">÷64</text><text class="sh" x="3503.3" y="171.7">(&gt;&gt;6)</text>
</g>

<g id="eq-p" transform="translate(0,2147.53)">
<text class="lbl" x="2093" y="96.7">V-qpel</text>
<rect class="res" x="2302" y="20.5" width="109.5" height="109"/><text class="rl" x="2333.5" y="80">p</text><text class="rs" x="2401" y="111.5">0,0</text>
<text class="eq" x="2452" y="113">=</text>
<text class="tap" x="2356" y="168.3">7-tap</text><text class="gk" x="2356.5" y="192.7">β</text>
<rect class="ct" x="2493" y="2.8" width="993.3" height="177.2"/>
<g class="gy" transform="translate(2508.3,0)"><rect class="bx" x="3" y="20.5" width="110" height="109"/><text class="bl" x="34.5" y="80">c</text><text class="bs" x="103" y="111.5">0,-2</text><text class="bm" x="103" y="163.3">× 1</text></g>
<g class="gy" transform="translate(2636.2,0)"><rect class="bx" x="3" y="20.5" width="110" height="109"/><text class="bl" x="34.5" y="80">c</text><text class="bs" x="103" y="111.5">0,-1</text><text class="bm" x="103" y="163.3">× -5</text></g>
<g class="bk" transform="translate(2764.1,0)"><rect class="bx" x="3" y="20.5" width="110" height="109"/><text class="bl" x="34.5" y="80">a</text><text class="bs" x="103" y="111.5">0,0</text><text class="bm gm" x="103" y="163.3">× 17</text></g>
<g class="gy" transform="translate(2892,0)"><rect class="bx" x="3" y="20.5" width="110" height="109"/><text class="bl" x="34.5" y="80">a</text><text class="bs" x="103" y="111.5">0,1</text><text class="bm" x="103" y="163.3">× 58</text></g>
<g class="gy" transform="translate(3019.9,0)"><rect class="bx" x="3" y="20.5" width="110" height="109"/><text class="bl" x="34.5" y="80">a</text><text class="bs" x="103" y="111.5">0,2</text><text class="bm" x="103" y="163.3">× -10</text></g>
<g class="gy" transform="translate(3147.8,0)"><rect class="bx" x="3" y="20.5" width="110" height="109"/><text class="bl" x="34.5" y="80">a</text><text class="bs" x="103" y="111.5">0,3</text><text class="bm" x="103" y="163.3">× 4</text></g>
<g class="gy" transform="translate(3275.7,0)"><rect class="bx" x="3" y="20.5" width="110" height="109"/><text class="bl" x="34.5" y="80">a</text><text class="bs" x="103" y="111.5">0,4</text><text class="bm" x="103" y="163.3">× -1</text></g>
<text class="pl" x="2630.3" y="95">+</text><text class="pl" x="2758.2" y="95">+</text><text class="pl" x="2886.1" y="95">+</text><text class="pl" x="3014" y="95">+</text><text class="pl" x="3141.9" y="95">+</text><text class="pl" x="3269.8" y="95">+</text>
<text class="p32" x="3379" y="95">+32</text><text class="d64" x="3489.3" y="106">÷64</text><text class="sh" x="3503.3" y="171.7">(&gt;&gt;6)</text>
</g>

<g id="eq-r" transform="translate(0,2342.76)">
<text class="lbl" x="2093" y="96.7">V-qpel</text>
<rect class="res" x="2302" y="20.5" width="109.5" height="109"/><text class="rl" x="2333.5" y="80">r</text><text class="rs" x="2401" y="111.5">0,0</text>
<text class="eq" x="2452" y="113">=</text>
<text class="tap" x="2356" y="168.3">7-tap</text><text class="gk" x="2356.5" y="192.7">β</text>
<rect class="ct" x="2493" y="2.8" width="993.3" height="177.2"/>
<g class="gy" transform="translate(2508.3,0)"><rect class="bx" x="3" y="20.5" width="110" height="109"/><text class="bl" x="34.5" y="80">a</text><text class="bs" x="103" y="111.5">0,-2</text><text class="bm" x="103" y="163.3">× 1</text></g>
<g class="gy" transform="translate(2636.2,0)"><rect class="bx" x="3" y="20.5" width="110" height="109"/><text class="bl" x="34.5" y="80">a</text><text class="bs" x="103" y="111.5">0,-1</text><text class="bm" x="103" y="163.3">× -5</text></g>
<g class="bk" transform="translate(2764.1,0)"><rect class="bx" x="3" y="20.5" width="110" height="109"/><text class="bl" x="34.5" y="80">c</text><text class="bs" x="103" y="111.5">0,0</text><text class="bm gm" x="103" y="163.3">× 17</text></g>
<g class="gy" transform="translate(2892,0)"><rect class="bx" x="3" y="20.5" width="110" height="109"/><text class="bl" x="34.5" y="80">c</text><text class="bs" x="103" y="111.5">0,1</text><text class="bm" x="103" y="163.3">× 58</text></g>
<g class="gy" transform="translate(3019.9,0)"><rect class="bx" x="3" y="20.5" width="110" height="109"/><text class="bl" x="34.5" y="80">c</text><text class="bs" x="103" y="111.5">0,2</text><text class="bm" x="103" y="163.3">× -10</text></g>
<g class="gy" transform="translate(3147.8,0)"><rect class="bx" x="3" y="20.5" width="110" height="109"/><text class="bl" x="34.5" y="80">c</text><text class="bs" x="103" y="111.5">0,3</text><text class="bm" x="103" y="163.3">× 4</text></g>
<g class="gy" transform="translate(3275.7,0)"><rect class="bx" x="3" y="20.5" width="110" height="109"/><text class="bl" x="34.5" y="80">c</text><text class="bs" x="103" y="111.5">0,4</text><text class="bm" x="103" y="163.3">× -1</text></g>
<text class="pl" x="2630.3" y="95">+</text><text class="pl" x="2758.2" y="95">+</text><text class="pl" x="2886.1" y="95">+</text><text class="pl" x="3014" y="95">+</text><text class="pl" x="3141.9" y="95">+</text><text class="pl" x="3269.8" y="95">+</text>
<text class="p32" x="3379" y="95">+32</text><text class="d64" x="3489.3" y="106">÷64</text><text class="sh" x="3503.3" y="171.7">(&gt;&gt;6)</text>
</g>
</svg>
